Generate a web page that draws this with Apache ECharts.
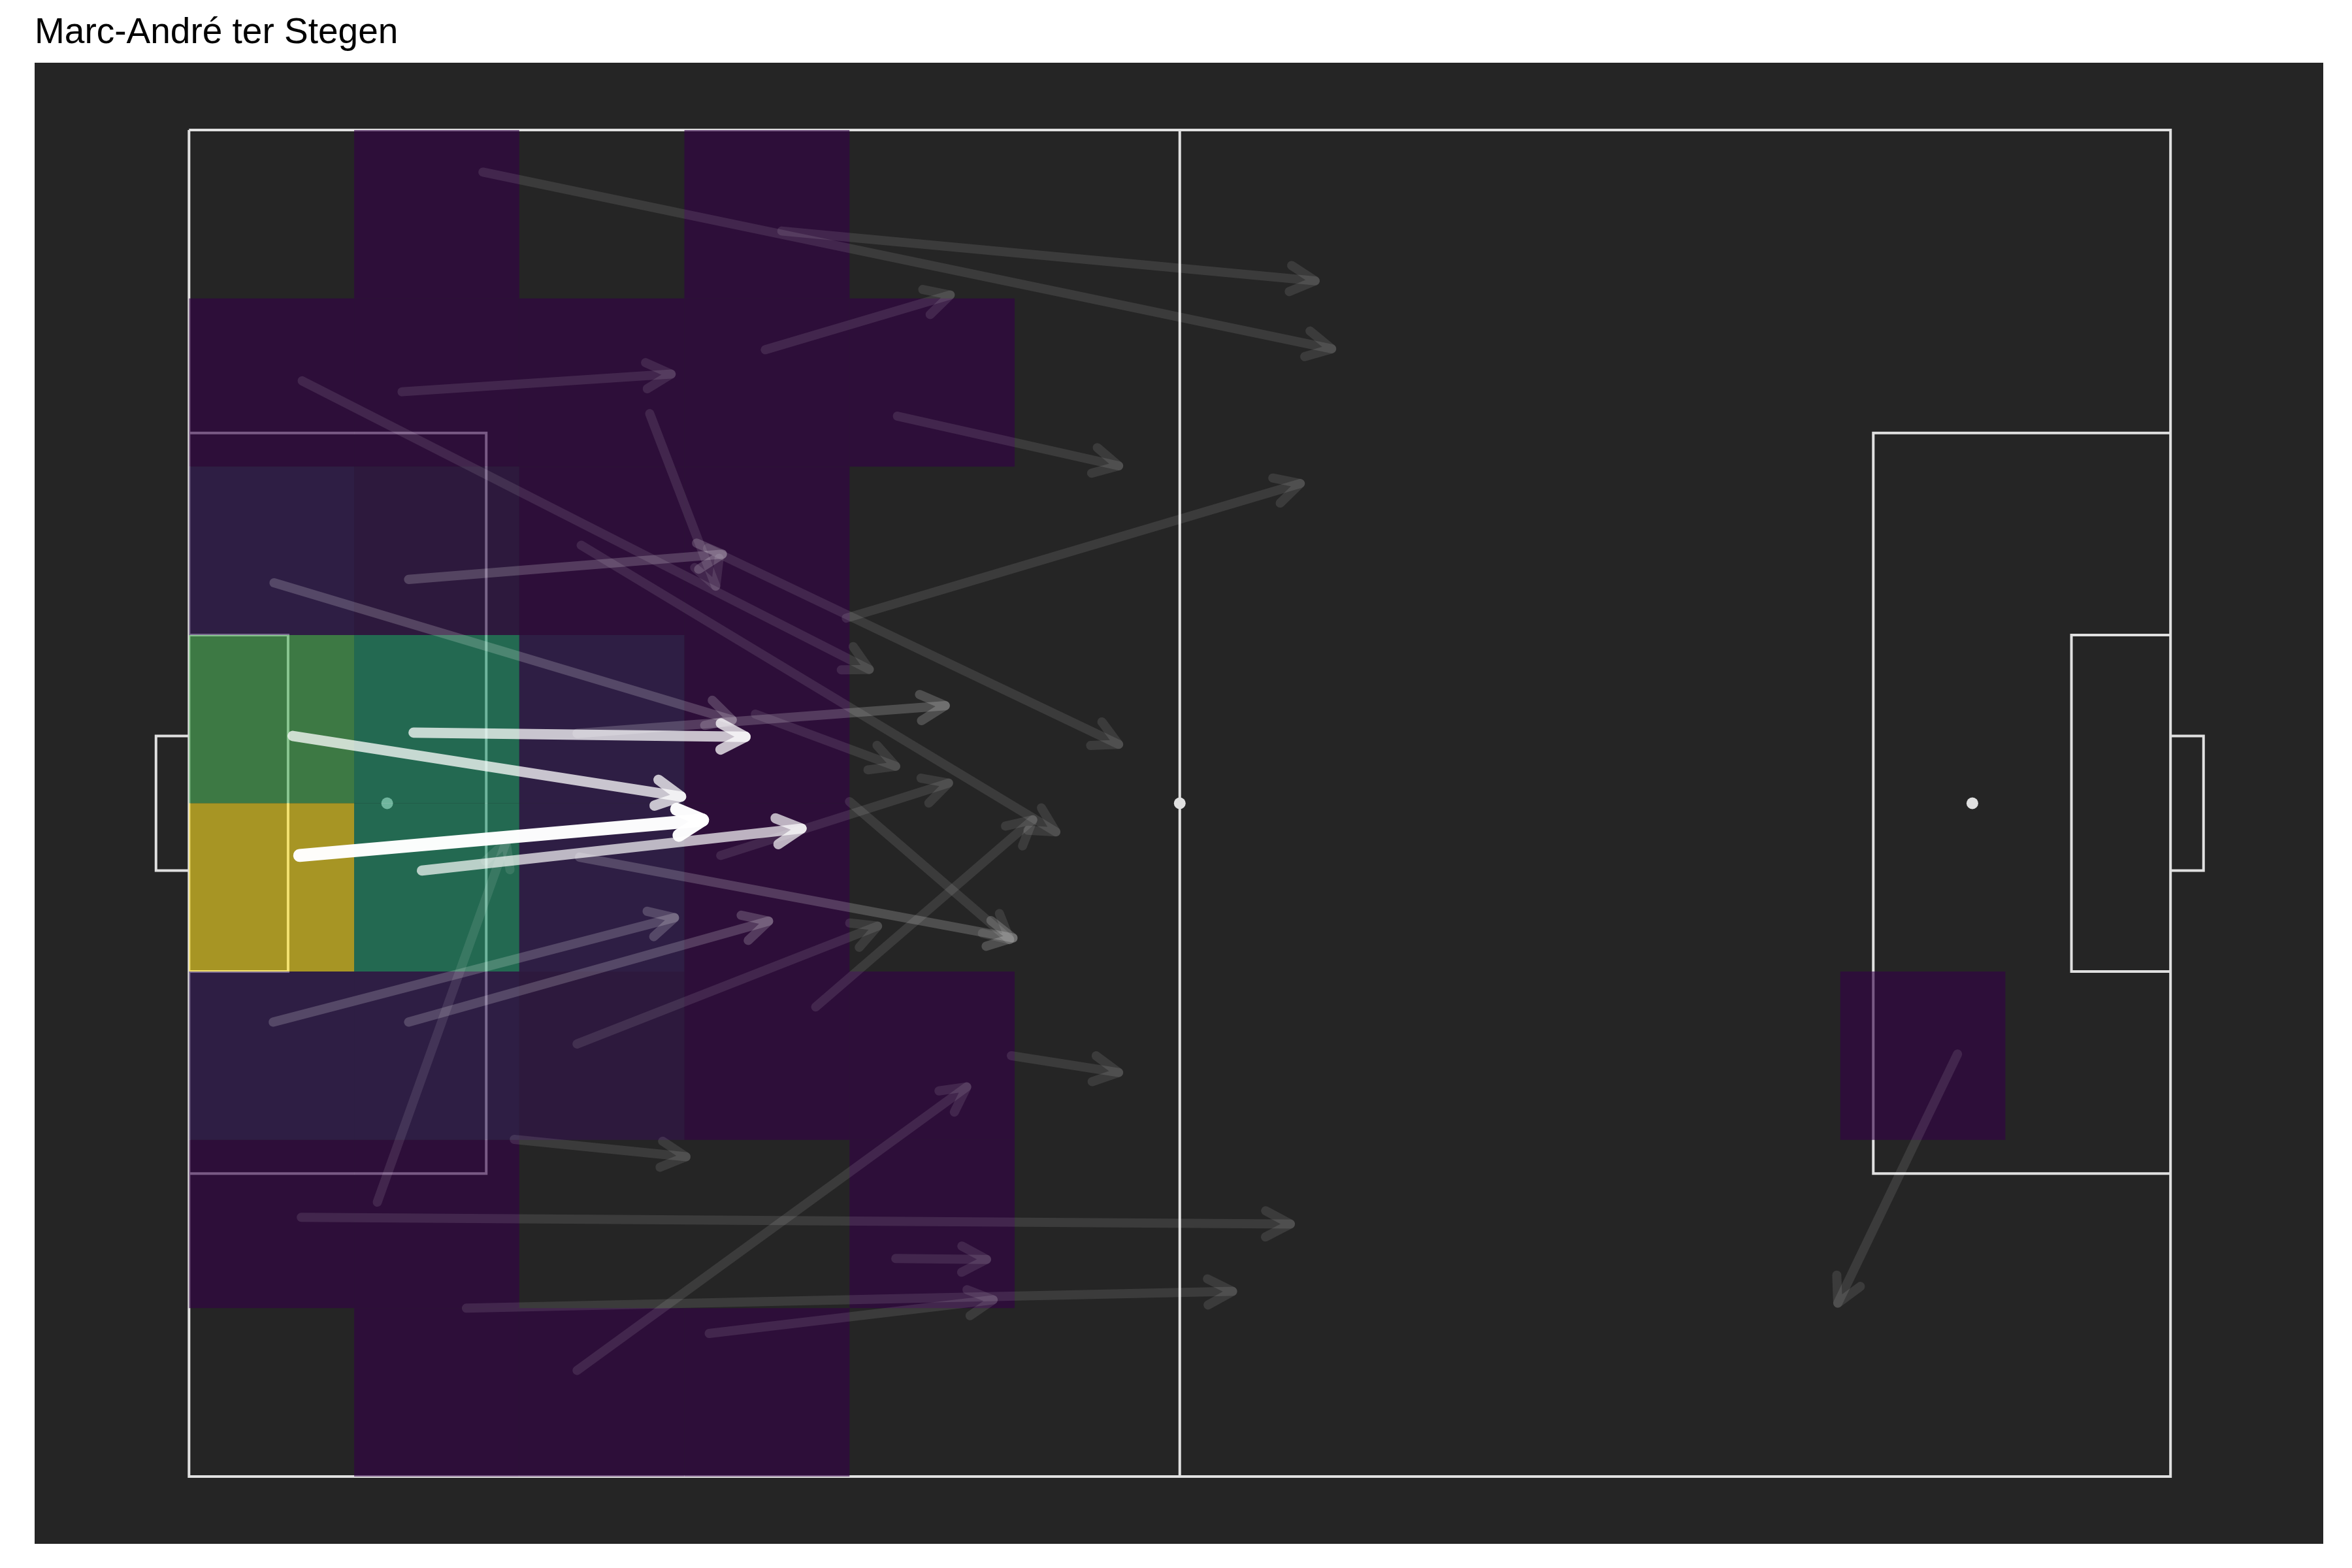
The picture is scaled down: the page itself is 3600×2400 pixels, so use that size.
<!DOCTYPE html>
<html>
<head>
<meta charset="utf-8">
<script src="https://cdn.jsdelivr.net/npm/echarts@6/dist/echarts.min.js"></script>
<style>
html,body{margin:0;padding:0;background:#ffffff;}
#chart{width:3600px;height:2400px;}
</style>
</head>
<body>
<div id="chart"></div>
<script>
// ---------- DATA (StatsBomb units: x 0..120 left->right, y 0..80 top->bottom) ----------
const chartTitle = 'Marc-André ter Stegen';

// pass start / end locations, and how many passes share that route (stacked arrows)
const passStartX = [17.8, 35.9, 34.9, 12.9, 6.85, 23.75, 27.9, 13.3, 5.15, 34.3, 39.8, 42.9, 31.4, 23.5, 32.2, 40.0, 37.95, 23.65, 5.1, 13.3, 6.28, 13.6, 6.7, 14.1, 23.5, 11.4, 19.7, 6.8, 42.8, 16.8, 31.5, 23.5, 49.8, 107.1];
const passStartY = [2.5, 6.0, 13.05, 15.55, 14.9, 24.67, 16.85, 26.7, 26.9, 34.7, 29.0, 17.0, 24.85, 35.85, 43.1, 39.9, 52.1, 43.2, 53.0, 53.0, 36.0, 35.8, 43.1, 44.0, 54.3, 63.7, 59.97, 64.6, 67.05, 70.0, 71.5, 73.7, 55.0, 54.9];
const passEndX   = [69.2, 68.2, 46.1, 29.2, 41.2, 52.5, 31.9, 32.3, 32.9, 42.8, 67.3, 56.3, 56.3, 45.8, 46.0, 49.7, 51.1, 49.9, 29.4, 35.1, 29.8, 33.7, 31.1, 37.1, 41.7, 19.2, 30.1, 66.7, 48.3, 63.2, 48.7, 47.1, 56.3, 99.85];
const passEndY   = [13.0, 8.96, 9.8, 14.5, 32.05, 41.7, 27.1, 25.2, 35.05, 37.8, 21.0, 19.95, 36.5, 34.2, 38.8, 48.1, 40.98, 48.0, 46.8, 47.0, 39.6, 36.05, 41.0, 41.5, 47.3, 42.3, 61.0, 65.0, 67.1, 69.0, 69.5, 56.85, 56.0, 69.7];
const passCount  = [1, 1, 1, 1, 1, 1, 1, 2, 2, 1, 1, 1, 1, 2, 1, 1, 1, 2, 2, 2, 13, 13, 40, 11, 1, 1, 1, 1, 1, 1, 1, 1, 1, 1];

// heatmap of pass start locations: 8 rows (y bins of 10) x 12 cols (x bins of 10)
const binCounts = [
  [0, 1, 0, 1, 0, 0, 0, 0, 0, 0, 0, 0],
  [1, 1, 1, 1, 1, 0, 0, 0, 0, 0, 0, 0],
  [3, 2, 1, 1, 0, 0, 0, 0, 0, 0, 0, 0],
  [11, 9, 3, 1, 0, 0, 0, 0, 0, 0, 0, 0],
  [20, 9, 3, 1, 0, 0, 0, 0, 0, 0, 0, 0],
  [3, 3, 2, 1, 1, 0, 0, 0, 0, 0, 1, 0],
  [1, 1, 0, 0, 1, 0, 0, 0, 0, 0, 0, 0],
  [0, 1, 1, 1, 0, 0, 0, 0, 0, 0, 0, 0]
];
const binSize = 10;

// ---------- STYLE ----------
const bgColor = '#252525';
const lineColor = '#e0e0e0';
const heatAlpha = 0.6;
const binPalette = { // count -> rgb (before alpha)
  1: [52, 0, 72],
  2: [52, 19, 79],
  3: [54, 27, 90],
  9: [35, 152, 112],
  11: [79, 179, 90],
  20: [255, 225, 37]
};
const arrowBaseAlpha = 0.1;

function binColor(v) {
  const keys = Object.keys(binPalette).map(Number).sort((a, b) => a - b);
  let best = keys[0];
  keys.forEach(k => { if (Math.abs(k - v) < Math.abs(best - v)) best = k; });
  const c = binPalette[best];
  return 'rgba(' + c[0] + ',' + c[1] + ',' + c[2] + ',' + heatAlpha + ')';
}

const heatData = [];
binCounts.forEach((row, r) => row.forEach((v, c) => {
  if (v > 0) heatData.push([c * binSize, r * binSize, v]);
}));
const passData = passStartX.map((x, i) => [x, passStartY[i], passEndX[i], passEndY[i], passCount[i]]);

// pitch geometry (StatsBomb)
const pitchPolys = [
  [[0, 0], [120, 0], [120, 80], [0, 80], [0, 0]],
  [[60, 0], [60, 80]],
  [[0, 18], [18, 18], [18, 62], [0, 62]],
  [[0, 30], [6, 30], [6, 50], [0, 50]],
  [[0, 36], [-2, 36], [-2, 44], [0, 44]],
  [[120, 18], [102, 18], [102, 62], [120, 62]],
  [[120, 30], [114, 30], [114, 50], [120, 50]],
  [[120, 36], [122, 36], [122, 44], [120, 44]]
];
const pitchSpots = [[12, 40], [60, 40], [108, 40]];

const chart = echarts.init(document.getElementById('chart'), null, { renderer: 'canvas' });
chart.setOption({
  animation: false,
  backgroundColor: '#ffffff',
  title: {
    text: chartTitle,
    left: 48,
    top: 18,
    textStyle: { fontFamily: 'Liberation Sans, Arial, sans-serif', fontSize: 55, fontWeight: 'normal', color: '#000000' }
  },
  grid: { left: 53, right: 44, top: 96, bottom: 37, show: true, backgroundColor: bgColor, borderWidth: 0 },
  xAxis: { type: 'value', min: -9.35, max: 129.25, show: false },
  yAxis: { type: 'value', min: -4, max: 84, inverse: true, show: false },
  series: [
    {
      type: 'custom',
      z: 1,
      silent: true,
      data: [[0]],
      renderItem: function (params, api) {
        const children = [];
        pitchPolys.forEach(poly => {
          children.push({
            type: 'polyline',
            shape: { points: poly.map(p => api.coord(p)) },
            style: { stroke: lineColor, lineWidth: 4, fill: null, lineJoin: 'miter' }
          });
        });
        pitchSpots.forEach(s => {
          const p = api.coord(s);
          children.push({ type: 'circle', shape: { cx: p[0], cy: p[1], r: 9 }, style: { fill: lineColor } });
        });
        return { type: 'group', children: children };
      }
    },
    {
      type: 'custom',
      z: 2,
      silent: true,
      data: heatData,
      renderItem: function (params, api) {
        const x = api.value(0), y = api.value(1), v = api.value(2);
        const p0 = api.coord([x, y]);
        const p1 = api.coord([x + binSize, y + binSize]);
        return {
          type: 'rect',
          shape: { x: p0[0], y: p0[1], width: p1[0] - p0[0], height: p1[1] - p0[1] },
          style: { fill: binColor(v) }
        };
      }
    },
    {
      type: 'custom',
      z: 3,
      silent: true,
      data: passData,
      renderItem: function (params, api) {
        const n = api.value(4);
        const p0 = api.coord([api.value(0), api.value(1)]);
        const p1 = api.coord([api.value(2), api.value(3)]);
        const dx = p1[0] - p0[0], dy = p1[1] - p0[1];
        const len = Math.hypot(dx, dy) || 1;
        const ux = dx / len, uy = dy / len, nx = -uy, ny = ux;
        const alpha = 1 - Math.pow(1 - arrowBaseAlpha, n);
        const w = 14 + 0.15 * (n - 1);
        const hl = 38, hw = 20;
        const w1 = [p1[0] - ux * hl + nx * hw, p1[1] - uy * hl + ny * hw];
        const w2 = [p1[0] - ux * hl - nx * hw, p1[1] - uy * hl - ny * hw];
        const st = { stroke: '#ffffff', lineWidth: w, lineCap: 'round', lineJoin: 'round', fill: null, opacity: alpha };
        return {
          type: 'group',
          children: [
            { type: 'line', shape: { x1: p0[0], y1: p0[1], x2: p1[0], y2: p1[1] }, style: st },
            { type: 'polyline', shape: { points: [w1, p1, w2] }, style: Object.assign({}, st) }
          ]
        };
      }
    }
  ]
});
</script>
</body>
</html>
